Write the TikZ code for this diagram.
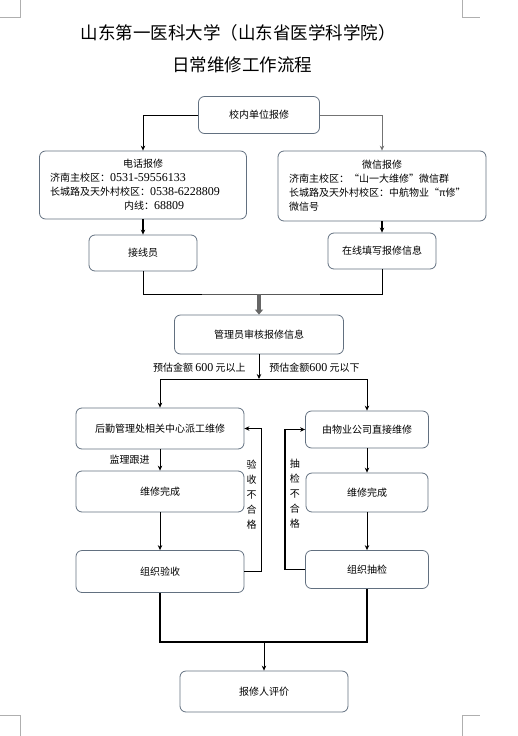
\documentclass[tikz,border=0pt]{standalone}
\usepackage{fontspec}
\setmainfont{Noto Sans CJK SC}
\newfontfamily\latfont[Scale=1.2]{Liberation Serif}
\newcommand\num[1]{{\latfont #1}}
\usetikzlibrary{positioning,arrows.meta}
\definecolor{boxline}{RGB}{98,112,128}
\definecolor{markgray}{RGB}{175,175,175}

\begin{document}
\begin{tikzpicture}[x=1pt,y=-1pt,on grid,>={Stealth[length=5pt,width=4.5pt]},
		box/.style={draw=boxline,line width=0.8pt,rounded corners=6pt,font=\fontsize{10}{14}\selectfont,align=center,inner sep=2pt},
		lbl/.style={font=\fontsize{10}{15}\selectfont,inner sep=1pt,align=center},
		link/.style={line width=0.8pt},
		heavy/.style={line width=1.5pt}]
		\useasboundingbox (0,0) rectangle (518,736);
		% page corner marks
		\draw[markgray,line width=0.6pt] (0,17) -- (20,17) -- (20,0) (462,0) -- (462,17) -- (480,17)
			(0,715) -- (20,715) -- (20,736) (462,736) -- (462,715) -- (480,715);
		
		\node[font=\fontsize{17.5}{20}\selectfont]	(title_1)	at (238,33)		{山东第一医科大学（山东省医学科学院）};
		\node[font=\fontsize{17.5}{20}\selectfont]	(title_2)	at (242,65)		{日常维修工作流程};
		
		\node[box,minimum width=121pt,minimum height=37pt]	(report)	at (259,115)	{校内单位报修};
		\node[box,minimum width=207pt,minimum height=68pt,text width=186pt,align=left]	(phone)	[below left=70pt and 116pt of report]
			{\makebox[\linewidth][c]{电话报修}\\济南主校区：\num{0531-59556133}\\长城路及天外村校区：\num{0538-6228809}\\\hspace*{74pt}内线：\num{68809}};
		\node[box,minimum width=208pt,minimum height=70pt,text width=186pt,align=left]	(wechat)	[below right=71pt and 123pt of report]
			{\makebox[\linewidth][c]{微信报修}\\济南主校区：“山一大维修”微信群\\长城路及天外村校区：中航物业“π修”\\微信号};
		\node[box,minimum width=108pt,minimum height=36pt]	(operator)	[below=68pt of phone]		{接线员};
		\node[box,minimum width=108pt,minimum height=36pt]	(online)	[below=65pt of wechat]		{在线填写报修信息};
		
		\node[box,minimum width=169pt,minimum height=39pt]	(admin)		[below=219.5pt of report]	{管理员审核报修信息};
		\node[box,minimum width=168pt,minimum height=41pt]	(dispatch)	[below left=94pt and 99pt of admin]		{后勤管理处相关中心派工维修};
		\node[box,minimum width=123pt,minimum height=37pt]	(property)	[below right=95pt and 108pt of admin]	{由物业公司直接维修};
		\node[box,minimum width=168pt,minimum height=41pt]	(done_l)	[below=63pt of dispatch]	{维修完成};
		\node[box,minimum width=122pt,minimum height=39pt]	(done_r)	[below=63pt of property]	{维修完成};
		\node[box,minimum width=168pt,minimum height=42pt]	(accept)	[below=80pt of done_l]		{组织验收};
		\node[box,minimum width=123pt,minimum height=38pt]	(check)		[below=77pt of done_r]		{组织抽检};
		\node[box,minimum width=168pt,minimum height=41pt]	(rate)		[below=357pt of admin, xshift=5pt]	{报修人评价};
		
		\coordinate (join)	at (259,294);
		\coordinate (split)	at (259,379);
		\coordinate (merge)	at (264,642);
		
		\draw[link,->]	(report.west)	-| (phone.north);
		\draw[link,->,draw=gray!90!black]	(report.east)	-| (wechat.north);
		\draw[line width=1.2pt,->]	(phone)	-- (operator);
		\draw[heavy,->]	(wechat)	-- (online);
		\draw[link]	(operator.south)	|- (join) -| (online.south);
		\draw[line width=3.5pt,gray!80!black,-{Triangle[length=5pt,width=8pt]}]	(join)	-- (admin.north);
		
		\draw[link,->]	(admin)	-- (split)
			node[lbl,pos=.56,anchor=east,xshift=-12pt]	{预估金额 \num{600} 元以上}
			node[lbl,pos=.56,anchor=west,xshift=9pt]	{预估金额\num{600} 元以下};
		\draw[link,->]	(split)	-| (dispatch.north);
		\draw[link,->]	(split)	-| (property.north);
		
		\draw[link,->]	(dispatch)	-- (done_l)	node[lbl,midway,anchor=east,xshift=-9pt]	{监理跟进};
		\draw[link,->]	(done_l)	-- (accept);
		\draw[heavy,->]	(accept.east)	-- ++(17,0) |- (dispatch.east)
			node[lbl,pos=.27,anchor=east,xshift=-3pt]	{验\\收\\不\\合\\格};
		
		\draw[link,->]	(property)	-- (done_r);
		\draw[link,->]	(done_r)	-- (check);
		\draw[heavy,->]	(check.west)	-- ++(-20,0) |- (property.west)
			node[lbl,pos=.27,anchor=west,xshift=3pt]	{抽\\检\\不\\合\\格};
		
		\draw[heavy]	(accept.south)	|- (merge) -| (check.south);
		\draw[link,->]	(merge)	-- (rate.north);
	\end{tikzpicture}
\end{document}
